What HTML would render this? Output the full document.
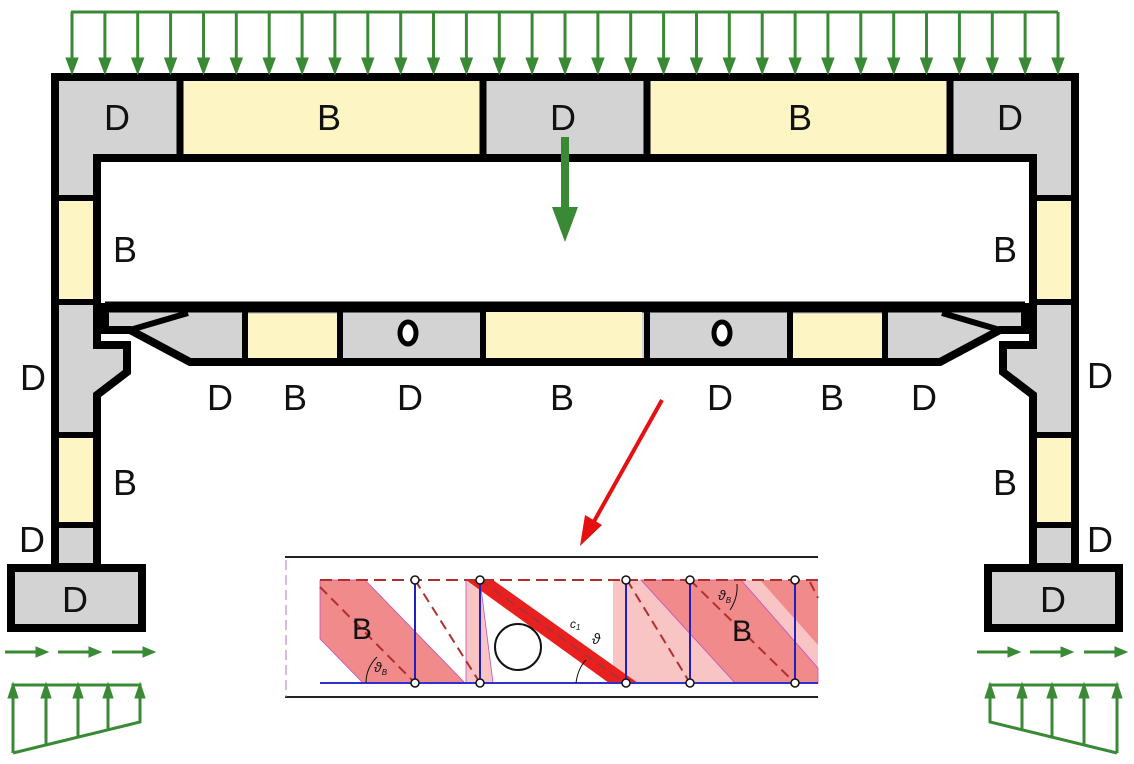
<!DOCTYPE html>
<html><head><meta charset="utf-8"><style>
html,body{margin:0;padding:0;background:#fff}
svg{display:block}
text{font-family:"Liberation Sans",sans-serif}
</style></head><body>
<svg width="1134" height="764" viewBox="0 0 1134 764" xmlns="http://www.w3.org/2000/svg">
<defs>
<g id="half">
  <polygon points="55,77 565,77 565,158 97,158 97,345 127,345 127,372 97,395 97,567 55,567" fill="#d3d3d3" stroke="#000" stroke-width="8" stroke-linejoin="miter"/>
  <rect x="180" y="81" width="303" height="73" fill="#fdf5c4"/>
  <line x1="180" y1="77" x2="180" y2="158" stroke="#000" stroke-width="7"/>
  <line x1="483" y1="77" x2="483" y2="158" stroke="#000" stroke-width="7"/>
  <rect x="59" y="200" width="34" height="100" fill="#fdf5c4"/>
  <line x1="55" y1="198" x2="97" y2="198" stroke="#000" stroke-width="6"/>
  <line x1="55" y1="302" x2="97" y2="302" stroke="#000" stroke-width="6"/>
  <rect x="59" y="437" width="34" height="86" fill="#fdf5c4"/>
  <line x1="55" y1="435" x2="97" y2="435" stroke="#000" stroke-width="6"/>
  <line x1="55" y1="525" x2="97" y2="525" stroke="#000" stroke-width="6"/>
  <rect x="11" y="568" width="131" height="60" fill="#d3d3d3" stroke="#000" stroke-width="8"/>
  <polygon points="565,307 105,307 105,330 130,330 190,362 565,362" fill="#d3d3d3" stroke="#000" stroke-width="8" stroke-linejoin="miter"/>
  <line x1="130" y1="330" x2="188" y2="313" stroke="#000" stroke-width="6"/>
  <line x1="105" y1="307" x2="565" y2="307" stroke="#000" stroke-width="11"/>
  <rect x="248" y="314" width="89" height="44" fill="#fdf5c4"/>
  <line x1="245" y1="310" x2="245" y2="362" stroke="#000" stroke-width="6"/>
  <line x1="340" y1="310" x2="340" y2="362" stroke="#000" stroke-width="6"/>
  <line x1="483" y1="310" x2="483" y2="362" stroke="#000" stroke-width="6"/>
  <ellipse cx="408" cy="333" rx="8" ry="11" fill="#fff" stroke="#000" stroke-width="5"/>
  <g stroke="#3a8a35" stroke-width="3" fill="#3a8a35">
    <polyline points="13,753 13,685 140,685 140,722 13,753" fill="none"/>
    <line x1="46" y1="688" x2="46" y2="745"/><line x1="78" y1="688" x2="78" y2="737"/><line x1="108" y1="688" x2="108" y2="730"/>
    <polygon points="13,683 8,698 18,698" stroke-width="1"/><polygon points="46,683 41,698 51,698" stroke-width="1"/>
    <polygon points="78,683 73,698 83,698" stroke-width="1"/><polygon points="108,683 103,698 113,698" stroke-width="1"/>
    <polygon points="140,683 135,698 145,698" stroke-width="1"/>
  </g>
</g>
<g id="harr" stroke="#3a8a35" stroke-width="3" fill="#3a8a35">
    <line x1="0" y1="652" x2="35" y2="652"/><polygon points="43,652 31,647 31,657" stroke-width="1"/>
    <line x1="53" y1="652" x2="88" y2="652"/><polygon points="96,652 84,647 84,657" stroke-width="1"/>
    <line x1="107" y1="652" x2="142" y2="652"/><polygon points="150,652 138,647 138,657" stroke-width="1"/>
</g>
</defs>
<use href="#half"/>
<use href="#half" transform="translate(1130,0) scale(-1,1)"/>
<use href="#harr" transform="translate(5,0)"/>
<use href="#harr" transform="translate(977,0)"/>
<g stroke="#3a8a35" stroke-width="3" fill="#3a8a35">
<line x1="71" y1="12" x2="1058" y2="12"/>
<line x1="72" y1="12" x2="72" y2="62"/><polygon stroke-width="1" points="72,74 66,58 78,58"/><line x1="104.9" y1="12" x2="104.9" y2="62"/><polygon stroke-width="1" points="104.9,74 98.9,58 110.9,58"/><line x1="137.7" y1="12" x2="137.7" y2="62"/><polygon stroke-width="1" points="137.7,74 131.7,58 143.7,58"/><line x1="170.6" y1="12" x2="170.6" y2="62"/><polygon stroke-width="1" points="170.6,74 164.6,58 176.6,58"/><line x1="203.5" y1="12" x2="203.5" y2="62"/><polygon stroke-width="1" points="203.5,74 197.5,58 209.5,58"/><line x1="236.3" y1="12" x2="236.3" y2="62"/><polygon stroke-width="1" points="236.3,74 230.3,58 242.3,58"/><line x1="269.2" y1="12" x2="269.2" y2="62"/><polygon stroke-width="1" points="269.2,74 263.2,58 275.2,58"/><line x1="302.1" y1="12" x2="302.1" y2="62"/><polygon stroke-width="1" points="302.1,74 296.1,58 308.1,58"/><line x1="334.9" y1="12" x2="334.9" y2="62"/><polygon stroke-width="1" points="334.9,74 328.9,58 340.9,58"/><line x1="367.8" y1="12" x2="367.8" y2="62"/><polygon stroke-width="1" points="367.8,74 361.8,58 373.8,58"/><line x1="400.7" y1="12" x2="400.7" y2="62"/><polygon stroke-width="1" points="400.7,74 394.7,58 406.7,58"/><line x1="433.5" y1="12" x2="433.5" y2="62"/><polygon stroke-width="1" points="433.5,74 427.5,58 439.5,58"/><line x1="466.4" y1="12" x2="466.4" y2="62"/><polygon stroke-width="1" points="466.4,74 460.4,58 472.4,58"/><line x1="499.3" y1="12" x2="499.3" y2="62"/><polygon stroke-width="1" points="499.3,74 493.3,58 505.3,58"/><line x1="532.1" y1="12" x2="532.1" y2="62"/><polygon stroke-width="1" points="532.1,74 526.1,58 538.1,58"/><line x1="565" y1="12" x2="565" y2="62"/><polygon stroke-width="1" points="565,74 559,58 571,58"/><line x1="597.9" y1="12" x2="597.9" y2="62"/><polygon stroke-width="1" points="597.9,74 591.9,58 603.9,58"/><line x1="630.7" y1="12" x2="630.7" y2="62"/><polygon stroke-width="1" points="630.7,74 624.7,58 636.7,58"/><line x1="663.6" y1="12" x2="663.6" y2="62"/><polygon stroke-width="1" points="663.6,74 657.6,58 669.6,58"/><line x1="696.5" y1="12" x2="696.5" y2="62"/><polygon stroke-width="1" points="696.5,74 690.5,58 702.5,58"/><line x1="729.3" y1="12" x2="729.3" y2="62"/><polygon stroke-width="1" points="729.3,74 723.3,58 735.3,58"/><line x1="762.2" y1="12" x2="762.2" y2="62"/><polygon stroke-width="1" points="762.2,74 756.2,58 768.2,58"/><line x1="795.1" y1="12" x2="795.1" y2="62"/><polygon stroke-width="1" points="795.1,74 789.1,58 801.1,58"/><line x1="827.9" y1="12" x2="827.9" y2="62"/><polygon stroke-width="1" points="827.9,74 821.9,58 833.9,58"/><line x1="860.8" y1="12" x2="860.8" y2="62"/><polygon stroke-width="1" points="860.8,74 854.8,58 866.8,58"/><line x1="893.7" y1="12" x2="893.7" y2="62"/><polygon stroke-width="1" points="893.7,74 887.7,58 899.7,58"/><line x1="926.5" y1="12" x2="926.5" y2="62"/><polygon stroke-width="1" points="926.5,74 920.5,58 932.5,58"/><line x1="959.4" y1="12" x2="959.4" y2="62"/><polygon stroke-width="1" points="959.4,74 953.4,58 965.4,58"/><line x1="992.3" y1="12" x2="992.3" y2="62"/><polygon stroke-width="1" points="992.3,74 986.3,58 998.3,58"/><line x1="1025.1" y1="12" x2="1025.1" y2="62"/><polygon stroke-width="1" points="1025.1,74 1019.1,58 1031.1,58"/><line x1="1058" y1="12" x2="1058" y2="62"/><polygon stroke-width="1" points="1058,74 1052,58 1064,58"/>
</g>
<rect x="487" y="81" width="154" height="73" fill="#d3d3d3"/>
<rect x="486" y="312" width="156" height="46" fill="#fdf5c4"/>
<rect x="561" y="137" width="8" height="75" fill="#3a8a35"/>
<polygon points="552,207 578,207 565,242" fill="#3a8a35"/>
<line x1="662" y1="400" x2="592" y2="525" stroke="#e51010" stroke-width="4"/>
<polygon points="580,546 585,515 602,525" fill="#e51010"/>
<g font-size="36" fill="#111" text-anchor="middle">
<text x="117" y="130">D</text><text x="329" y="130">B</text><text x="563" y="130">D</text><text x="800" y="130">B</text><text x="1010" y="130">D</text>
<text x="125" y="262">B</text><text x="1005" y="262">B</text>
<text x="33" y="390">D</text><text x="1100" y="388">D</text>
<text x="220" y="410">D</text><text x="295" y="410">B</text><text x="410" y="410">D</text><text x="562" y="410">B</text><text x="720" y="410">D</text><text x="832" y="410">B</text><text x="924" y="410">D</text>
<text x="125" y="495">B</text><text x="1005" y="495">B</text>
<text x="32" y="552">D</text><text x="1100" y="552">D</text>
<text x="75" y="612">D</text><text x="1053" y="612">D</text>
</g>
<g>
<line x1="285" y1="557" x2="818" y2="557" stroke="#222" stroke-width="2"/>
<line x1="285" y1="697" x2="818" y2="697" stroke="#222" stroke-width="2"/>
<line x1="286" y1="560" x2="286" y2="697" stroke="#b070d0" stroke-width="1" stroke-dasharray="10,5"/>
<rect x="613" y="580" width="205" height="103" fill="#f9c4c4"/>
<polygon points="320,580 365,580 465,683 363,683 320,639" fill="#f18a8a" stroke="#c050c0" stroke-width="0.8"/>
<polygon points="466,580 480,580 493,683 466,683" fill="#f9c4c4" stroke="#c050c0" stroke-width="0.8"/>
<polygon points="641,580 741,580 818,668 818,683 735,683" fill="#f18a8a" stroke="#c050c0" stroke-width="0.8"/>
<polygon points="760,580 818,580 818,645" fill="#f18a8a"/>
<polygon points="466,580 493,580 638,683 609,683" fill="#e82020"/>
<circle cx="518" cy="647" r="23" fill="#fff" stroke="#111" stroke-width="2"/>
<line x1="320" y1="580" x2="818" y2="580" stroke="#b03030" stroke-width="2" stroke-dasharray="12,6"/>
<line x1="320" y1="683" x2="818" y2="683" stroke="#3030d0" stroke-width="2"/>
<g stroke="#b03030" stroke-width="2" stroke-dasharray="10,6">
<line x1="320" y1="587" x2="415" y2="683"/><line x1="415" y1="580" x2="480" y2="683"/>
<line x1="480" y1="580" x2="625" y2="683"/><line x1="627" y1="580" x2="690" y2="683"/>
<line x1="690" y1="580" x2="795" y2="683"/><line x1="810" y1="582" x2="818" y2="598"/>
</g>
<g stroke="#2020c0" stroke-width="2">
<line x1="415" y1="580" x2="415" y2="683"/><line x1="480" y1="580" x2="480" y2="683"/>
<line x1="626" y1="580" x2="626" y2="683"/><line x1="690" y1="580" x2="690" y2="683"/><line x1="795" y1="580" x2="795" y2="683"/>
</g>
<g fill="#fff" stroke="#111" stroke-width="1.5">
<circle cx="415" cy="580" r="4"/><circle cx="480" cy="580" r="4"/><circle cx="626" cy="580" r="4"/><circle cx="690" cy="580" r="4"/><circle cx="795" cy="580" r="4"/>
<circle cx="415" cy="683" r="4"/><circle cx="480" cy="683" r="4"/><circle cx="626" cy="683" r="4"/><circle cx="690" cy="683" r="4"/><circle cx="795" cy="683" r="4"/>
</g>
<text x="362" y="639" font-size="30" text-anchor="middle" fill="#111">B</text>
<text x="742" y="641" font-size="30" text-anchor="middle" fill="#111">B</text>
<text x="374" y="672" font-size="14" font-style="italic" fill="#111">ϑ<tspan font-size="8" dy="3">B</tspan></text>
<text x="718" y="600" font-size="14" font-style="italic" fill="#111">ϑ<tspan font-size="8" dy="3">B</tspan></text>
<text x="570" y="628" font-size="12" font-style="italic" fill="#111">c<tspan font-size="8" dy="2">1</tspan></text>
<text x="592" y="644" font-size="15" font-style="italic" fill="#111">ϑ</text>
<path d="M366,683 Q366,668 377,657" fill="none" stroke="#111" stroke-width="1"/>
<path d="M737,584 Q738,598 730,610" fill="none" stroke="#111" stroke-width="1"/>
<path d="M576,683 Q578,668 586,660" fill="none" stroke="#111" stroke-width="1"/>
</g>
</svg>
</body></html>
